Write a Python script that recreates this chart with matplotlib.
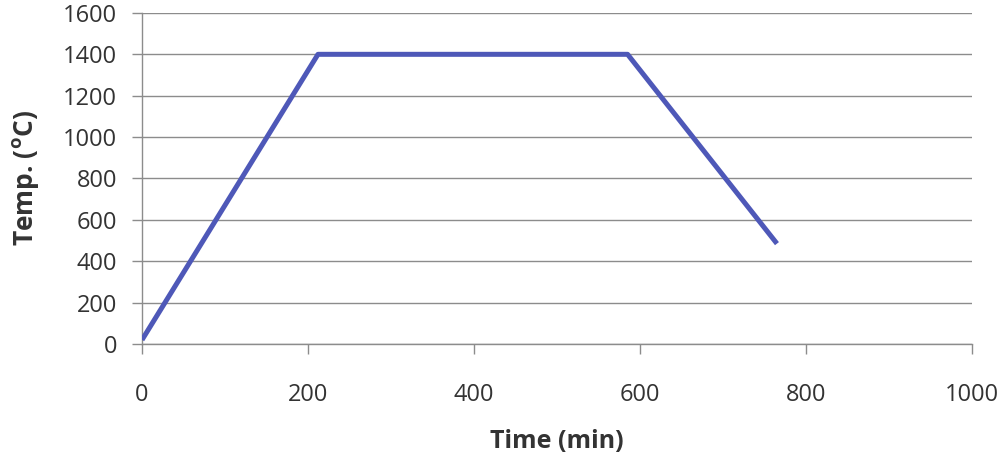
import matplotlib
matplotlib.use("Agg")
import matplotlib.pyplot as plt

# Perfil de temperatura do forno
time_min = [0, 212, 585, 765]
temp_c = [20, 1400, 1400, 485]
x_ticks = [0, 200, 400, 600, 800, 1000]
y_ticks = [0, 200, 400, 600, 800, 1000, 1200, 1400, 1600]

plt.rcParams['font.family'] = ['Open Sans', 'DejaVu Sans']

fig = plt.figure(figsize=(10.03, 4.62), dpi=100)
ax = fig.add_axes([0.1416, 0.2554, 0.8275, 0.7166])

ax.plot(time_min, temp_c, color='#4E58B8', linewidth=3.6, solid_capstyle='butt', zorder=3)

ax.set_xlim(0, 1000)
ax.set_ylim(0, 1600)
ax.set_xticks(x_ticks)
ax.set_yticks(y_ticks)
ax.grid(axis='y', color='#8c8c8c', linewidth=1.0)
ax.set_axisbelow(True)

for s in ['top', 'right']:
    ax.spines[s].set_visible(False)
for s in ['left', 'bottom']:
    ax.spines[s].set_color('#8c8c8c')
    ax.spines[s].set_linewidth(1.0)

ax.tick_params(axis='x', length=7, width=1, color='#8c8c8c', pad=21, labelsize=17, labelcolor='#333333')
ax.tick_params(axis='y', length=7, width=1, color='#8c8c8c', pad=11, labelsize=17, labelcolor='#333333')

ax.set_xlabel('Time (min)', fontsize=18, fontweight='bold', color='#333333', labelpad=16)
ax.set_ylabel('Temp. ($^{\\mathregular{o}}$C)', fontsize=19, fontweight='bold', color='#333333', labelpad=16)

fig.savefig('out.png', dpi=100)
